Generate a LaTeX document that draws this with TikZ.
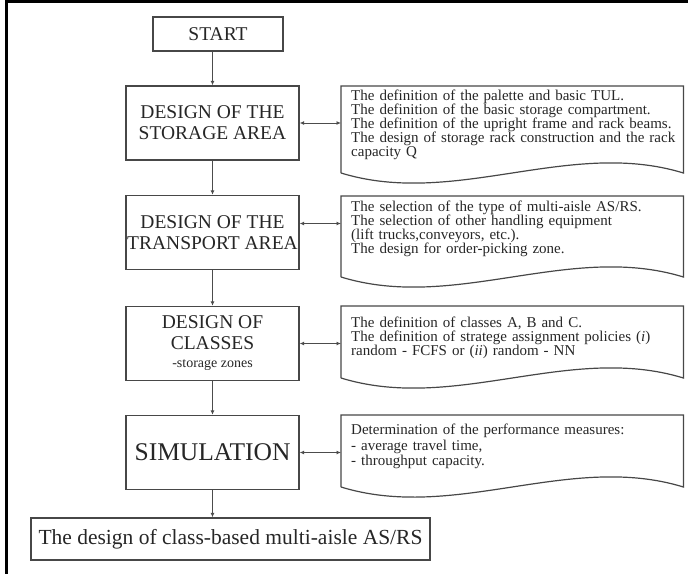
\documentclass[tikz,border=0pt]{standalone}
\usepackage{fontspec}
\setmainfont{Liberation Serif}
\usetikzlibrary{arrows.meta}

\tikzset{
  stepbox/.style={draw=black!72, line width=1.4pt, text=black!85, align=center,
    minimum width=173pt, minimum height=74pt, inner sep=0pt,
    font=\fontsize{19.5}{21}\selectfont},
  doctext/.style={anchor=north west, text width=332pt, inner xsep=5pt, inner ysep=4pt,
    align=left, text=black!85, font=\fontsize{15}{14}\selectfont},
  docline/.style={draw=black!72, line width=1.2pt},
  flow/.style={draw=black!70, line width=0.9pt, -{Latex[length=4.5pt,width=4pt]}},
  both/.style={draw=black!70, line width=0.9pt, {Latex[length=4.5pt,width=4pt]}-{Latex[length=4.5pt,width=4pt]}}
}

% outline of a document shape round a text node: name, height
\newcommand{\docframe}[2]{%
  \draw[docline] ([yshift=-#2pt]#1.north west) -- (#1.north west) -- (#1.north east)
    -- ([yshift=-#2pt]#1.north east)
    .. controls +(-114,-35) and +(114,35) .. ([yshift=-#2pt]#1.north west);}

\begin{document}
\begin{tikzpicture}[x=1pt,y=-1pt]
\useasboundingbox (0,0) rectangle (688,573);
% the frame
\draw[line width=3pt] (6,600) |- (700,1.5);

% the steps
\node[stepbox, minimum width=130pt, minimum height=34pt] (start) at (218,34) {START};
\node[stepbox] (sto) at (212.5,123) {DESIGN OF THE\\STORAGE AREA};
\node[stepbox] (tra) at (212.5,232.5) {DESIGN OF THE\\TRANSPORT AREA};
\node[stepbox] (cla) at (212.5,343.5) {DESIGN OF\\CLASSES\\[-3pt]{\fontsize{14}{15}\selectfont -storage zones}};
\node[stepbox, font=\fontsize{25.5}{27}\selectfont] (sim) at (212.5,452.5) {SIMULATION};
\node[stepbox, minimum width=399pt, minimum height=42pt, font=\fontsize{21.5}{23}\selectfont] (res) at (230.5,539) {The design of class-based multi-aisle AS/RS};

% the notes
\node[doctext] (stodoc) at (341,86) {\hspace*{5pt}The definition of the palette and basic TUL.\\
  \hspace*{5pt}The definition of the basic storage compartment.\\
  \hspace*{5pt}The definition of the upright frame and rack beams.\\
  \hspace*{5pt}The design of storage rack construction and the rack\\
  \hspace*{5pt}capacity Q};
\node[doctext, inner ysep=5pt] (tradoc) at (341,196) {\hspace*{5pt}The selection of the type of multi-aisle AS/RS.\\
  \hspace*{5pt}The selection of other handling equipment\\
  \hspace*{5pt}(lift trucks,conveyors, etc.).\\
  \hspace*{5pt}The design for order-picking zone.};
\node[doctext, inner ysep=11pt] (cladoc) at (341,306) {\hspace*{5pt}The definition of classes A, B and C.\\
  \hspace*{5pt}The definition of stratege assignment policies (\textit{i})\\
  \hspace*{5pt}random - FCFS or (\textit{ii}) random - NN};
\node[doctext, inner ysep=9pt, font=\fontsize{15}{15.5}\selectfont] (simdoc) at (341,415) {\hspace*{5pt}Determination of the performance measures:\\
  \hspace*{5pt}- average travel time,\\
  \hspace*{5pt}- throughput capacity.};

\docframe{stodoc}{87}
\docframe{tradoc}{81}
\docframe{cladoc}{72}
\docframe{simdoc}{72}

% the flow
\draw[flow] (sto.north |- start.south) -- (sto.north);
\draw[flow] (sto.south) -- (tra.north);
\draw[flow] (tra.south) -- (cla.north);
\draw[flow] (cla.south) -- (sim.north);
\draw[flow] (sim.south) -- (sim.south |- res.north);

% links to the notes
\draw[both] (sto.east) -- (sto.east -| stodoc.west);
\draw[both] ([yshift=9pt]tra.east) -- ([yshift=9pt]tra.east -| tradoc.west);
\draw[both] (cla.east) -- (cla.east -| cladoc.west);
\draw[both] (sim.east) -- (sim.east -| simdoc.west);
\end{tikzpicture}
\end{document}
